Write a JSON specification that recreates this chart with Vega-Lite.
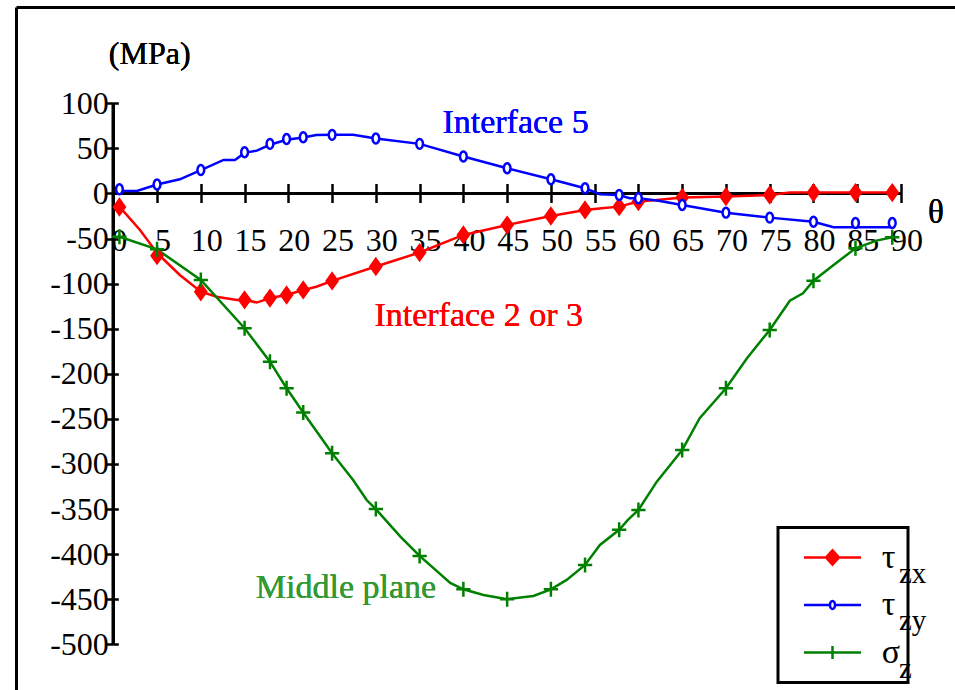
{
  "$schema": "https://vega.github.io/schema/vega-lite/v6.json",
  "width": 939,
  "height": 683,
  "autosize": {"type": "none"},
  "padding": {"left": 16, "top": 7, "right": 0, "bottom": 0},
  "background": "white",
  "config": {
    "view": {"stroke": null},
    "font": "Liberation Serif",
    "legend": {"strokeWidth": 3},
    "axis": {"labelFont": "Liberation Serif", "labelColor": "black", "tickColor": "black", "domainColor": "black", "grid": false, "labelOverlap": false, "labelFlush": false, "labelBound": false}
  },
  "datasets": {
    "curve": [
      {"series": "tzx", "x": 0.7, "y": -14.6}, {"series": "tzx", "x": 3.05, "y": -40.5}, {"series": "tzx", "x": 5, "y": -66},
      {"series": "tzx", "x": 7.6, "y": -90.4}, {"series": "tzx", "x": 10, "y": -109}, {"series": "tzx", "x": 11.8, "y": -114.5},
      {"series": "tzx", "x": 14.1, "y": -118.1}, {"series": "tzx", "x": 15, "y": -118}, {"series": "tzx", "x": 16.4, "y": -121},
      {"series": "tzx", "x": 17.9, "y": -116}, {"series": "tzx", "x": 19.8, "y": -112.6}, {"series": "tzx", "x": 21.7, "y": -107},
      {"series": "tzx", "x": 23.2, "y": -103.4}, {"series": "tzx", "x": 25, "y": -97}, {"series": "tzx", "x": 30, "y": -81},
      {"series": "tzx", "x": 35, "y": -65.5}, {"series": "tzx", "x": 40, "y": -46}, {"series": "tzx", "x": 45, "y": -35},
      {"series": "tzx", "x": 50, "y": -25}, {"series": "tzx", "x": 53.9, "y": -18.3}, {"series": "tzx", "x": 55.8, "y": -16.4},
      {"series": "tzx", "x": 57.8, "y": -14.6}, {"series": "tzx", "x": 60, "y": -9}, {"series": "tzx", "x": 62.1, "y": -7.2},
      {"series": "tzx", "x": 65, "y": -4.5}, {"series": "tzx", "x": 70, "y": -3.5}, {"series": "tzx", "x": 75, "y": -1.7},
      {"series": "tzx", "x": 77.3, "y": 1}, {"series": "tzx", "x": 80, "y": 1}, {"series": "tzx", "x": 84.8, "y": 1}, {"series": "tzx", "x": 89, "y": 1},
      {"series": "tzy", "x": 0.7, "y": 2.8}, {"series": "tzy", "x": 2.7, "y": 2.8}, {"series": "tzy", "x": 5, "y": 10},
      {"series": "tzy", "x": 7.6, "y": 15.7}, {"series": "tzy", "x": 10, "y": 26}, {"series": "tzy", "x": 12.6, "y": 37.2},
      {"series": "tzy", "x": 13.9, "y": 37.2}, {"series": "tzy", "x": 15, "y": 45}, {"series": "tzy", "x": 16.4, "y": 47.5},
      {"series": "tzy", "x": 17.9, "y": 54}, {"series": "tzy", "x": 19.8, "y": 59.5}, {"series": "tzy", "x": 21.7, "y": 62},
      {"series": "tzy", "x": 23.2, "y": 64.9}, {"series": "tzy", "x": 25, "y": 65}, {"series": "tzy", "x": 27.4, "y": 65},
      {"series": "tzy", "x": 30, "y": 61}, {"series": "tzy", "x": 35, "y": 55}, {"series": "tzy", "x": 40, "y": 41},
      {"series": "tzy", "x": 45, "y": 28}, {"series": "tzy", "x": 50, "y": 15.7}, {"series": "tzy", "x": 53.9, "y": 5.8},
      {"series": "tzy", "x": 55.6, "y": -0.9}, {"series": "tzy", "x": 57.8, "y": -1.7}, {"series": "tzy", "x": 59, "y": -5.3},
      {"series": "tzy", "x": 60, "y": -5.3}, {"series": "tzy", "x": 62.3, "y": -8}, {"series": "tzy", "x": 65, "y": -12.8},
      {"series": "tzy", "x": 70, "y": -21.3}, {"series": "tzy", "x": 75, "y": -26.8}, {"series": "tzy", "x": 80, "y": -31.3},
      {"series": "tzy", "x": 82.3, "y": -37.5}, {"series": "tzy", "x": 89, "y": -37.5},
      {"series": "sz", "x": 0.7, "y": -48}, {"series": "sz", "x": 5, "y": -62}, {"series": "sz", "x": 10, "y": -96},
      {"series": "sz", "x": 15, "y": -149.5}, {"series": "sz", "x": 17.9, "y": -186.5}, {"series": "sz", "x": 19.8, "y": -216},
      {"series": "sz", "x": 21.7, "y": -243}, {"series": "sz", "x": 25, "y": -288}, {"series": "sz", "x": 27.4, "y": -317.7},
      {"series": "sz", "x": 28.95, "y": -340}, {"series": "sz", "x": 30, "y": -350}, {"series": "sz", "x": 32.8, "y": -380.6},
      {"series": "sz", "x": 35, "y": -402}, {"series": "sz", "x": 38.5, "y": -432}, {"series": "sz", "x": 40, "y": -439},
      {"series": "sz", "x": 42.3, "y": -445.3}, {"series": "sz", "x": 45, "y": -450}, {"series": "sz", "x": 48, "y": -446.4},
      {"series": "sz", "x": 50, "y": -439}, {"series": "sz", "x": 51.8, "y": -428.6}, {"series": "sz", "x": 53.9, "y": -412},
      {"series": "sz", "x": 55.6, "y": -389.8}, {"series": "sz", "x": 57.8, "y": -373}, {"series": "sz", "x": 58.8, "y": -362},
      {"series": "sz", "x": 60, "y": -351}, {"series": "sz", "x": 62.1, "y": -319.6}, {"series": "sz", "x": 65, "y": -284.5},
      {"series": "sz", "x": 67, "y": -249.3}, {"series": "sz", "x": 70, "y": -216}, {"series": "sz", "x": 72.4, "y": -182.8},
      {"series": "sz", "x": 75, "y": -151.4}, {"series": "sz", "x": 77.3, "y": -118.9}, {"series": "sz", "x": 78.8, "y": -110.7},
      {"series": "sz", "x": 80, "y": -96.7}, {"series": "sz", "x": 82.3, "y": -79.3}, {"series": "sz", "x": 84.8, "y": -60.8},
      {"series": "sz", "x": 87.2, "y": -52.3}, {"series": "sz", "x": 89, "y": -48.6}
    ],
    "markers": [
      {"series": "tzx", "x": 0.7, "y": -15}, {"series": "tzx", "x": 5, "y": -69}, {"series": "tzx", "x": 10, "y": -109},
      {"series": "tzx", "x": 15, "y": -118}, {"series": "tzx", "x": 17.9, "y": -116}, {"series": "tzx", "x": 19.8, "y": -112.6},
      {"series": "tzx", "x": 21.7, "y": -107}, {"series": "tzx", "x": 25, "y": -97}, {"series": "tzx", "x": 30, "y": -81},
      {"series": "tzx", "x": 35, "y": -65.5}, {"series": "tzx", "x": 40, "y": -46}, {"series": "tzx", "x": 45, "y": -35},
      {"series": "tzx", "x": 50, "y": -25}, {"series": "tzx", "x": 53.9, "y": -18.3}, {"series": "tzx", "x": 57.8, "y": -14.6},
      {"series": "tzx", "x": 60, "y": -9}, {"series": "tzx", "x": 65, "y": -4.5}, {"series": "tzx", "x": 70, "y": -3.5},
      {"series": "tzx", "x": 75, "y": -1.7}, {"series": "tzx", "x": 80, "y": 1}, {"series": "tzx", "x": 84.8, "y": 1}, {"series": "tzx", "x": 89, "y": 1},
      {"series": "tzy", "x": 0.7, "y": 4.7}, {"series": "tzy", "x": 5, "y": 10}, {"series": "tzy", "x": 10, "y": 26},
      {"series": "tzy", "x": 15, "y": 45.7}, {"series": "tzy", "x": 17.9, "y": 55}, {"series": "tzy", "x": 19.8, "y": 60.4},
      {"series": "tzy", "x": 21.7, "y": 62.3}, {"series": "tzy", "x": 25, "y": 65}, {"series": "tzy", "x": 30, "y": 61},
      {"series": "tzy", "x": 35, "y": 55}, {"series": "tzy", "x": 40, "y": 41}, {"series": "tzy", "x": 45, "y": 28},
      {"series": "tzy", "x": 50, "y": 15.7}, {"series": "tzy", "x": 53.9, "y": 5.8}, {"series": "tzy", "x": 57.8, "y": -1.7},
      {"series": "tzy", "x": 60, "y": -5.3}, {"series": "tzy", "x": 65, "y": -12.8}, {"series": "tzy", "x": 70, "y": -21.3},
      {"series": "tzy", "x": 75, "y": -26.8}, {"series": "tzy", "x": 80, "y": -31.3}, {"series": "tzy", "x": 84.8, "y": -32.7}, {"series": "tzy", "x": 89, "y": -32.7},
      {"series": "sz", "x": 0.7, "y": -48}, {"series": "sz", "x": 5, "y": -62}, {"series": "sz", "x": 10, "y": -96},
      {"series": "sz", "x": 15, "y": -149.5}, {"series": "sz", "x": 17.9, "y": -186.5}, {"series": "sz", "x": 19.8, "y": -216},
      {"series": "sz", "x": 21.7, "y": -243}, {"series": "sz", "x": 25, "y": -288}, {"series": "sz", "x": 30, "y": -350},
      {"series": "sz", "x": 35, "y": -402}, {"series": "sz", "x": 40, "y": -439}, {"series": "sz", "x": 45, "y": -450},
      {"series": "sz", "x": 50, "y": -439}, {"series": "sz", "x": 53.9, "y": -412}, {"series": "sz", "x": 57.8, "y": -373},
      {"series": "sz", "x": 60, "y": -351}, {"series": "sz", "x": 65, "y": -284.5}, {"series": "sz", "x": 70, "y": -216},
      {"series": "sz", "x": 75, "y": -151.4}, {"series": "sz", "x": 80, "y": -96.7}, {"series": "sz", "x": 84.8, "y": -60.8}, {"series": "sz", "x": 89, "y": -48.6}
    ],
    "legend": [
      {"series": "tzx", "sub": "zx"}, {"series": "tzy", "sub": "zy"}, {"series": "sz", "sub": "z"}
    ]
  },
  "layer": [
    {
      "data": {"name": "legend"},
      "mark": {"type": "rule", "stroke": "black", "strokeWidth": 3},
      "encoding": {
        "x": {"datum": 0, "type": "quantitative", "axis": null},
        "y": {"datum": -500, "type": "quantitative", "axis": {"orient": "left", "offset": 0, "domain": true, "domainWidth": 3, "ticks": false, "labels": false, "title": null}},
        "y2": {"datum": 100}
      }
    },
    {
      "data": {"name": "legend"},
      "mark": {"type": "rule", "stroke": "black", "strokeWidth": 3},
      "encoding": {
        "x": {"datum": 0, "type": "quantitative", "axis": {"orient": "top", "offset": 0, "domain": true, "domainWidth": 3, "ticks": false, "labels": false, "title": null}},
        "x2": {"datum": 90},
        "y": {"datum": 0, "type": "quantitative", "axis": null}
      }
    },
    {
      "data": {"name": "curve"},
      "mark": {"type": "line", "strokeWidth": 2.5},
      "encoding": {
        "x": {"field": "x", "type": "quantitative", "scale": {"domain": [-11.117, 96.171], "nice": false, "zero": false},
              "axis": {"orient": "bottom", "offset": -496.5, "values": [0,5,10,15,20,25,30,35,40,45,50,55,60,65,70,75,80,85,90], "domain": false, "tickSize": 9, "tickWidth": 2.5, "labelFont": "Liberation Serif", "labelFontSize": 32, "labelPadding": 23, "labelOffset": 5.5, "labelExpr": "'' + datum.value", "title": null}},
        "y": {"field": "y", "type": "quantitative", "scale": {"domain": [-550.68, 206.8], "nice": false, "zero": false},
              "axis": {"orient": "left", "offset": -97.3, "values": [-500,-450,-400,-350,-300,-250,-200,-150,-100,-50,0,50,100], "domain": false, "tickSize": 7, "tickWidth": 2.5, "labelFont": "Liberation Serif", "labelFontSize": 32, "labelPadding": -2, "labelExpr": "'' + datum.value", "title": null}},
        "stroke": {"field": "series", "type": "nominal", "scale": {"domain": ["tzx", "tzy", "sz"], "range": ["#ff0000", "#0000ff", "#008000"]}, "legend": null}
      }
    },
    {
      "data": {"name": "markers"},
      "mark": {"type": "point", "filled": true, "opacity": 1, "strokeWidth": 2.5, "size": 225},
      "encoding": {
        "x": {"field": "x", "type": "quantitative",
              "axis": {"orient": "top", "offset": -186.5, "values": [0,5,10,15,20,25,30,35,40,45,50,55,60,65,70,75,80,85,90], "domain": false, "tickSize": 10, "tickWidth": 2.5, "labels": false, "title": null}},
        "y": {"field": "y", "type": "quantitative",
              "axis": {"orient": "right", "offset": -841.7, "values": [-500,-450,-400,-350,-300,-250,-200,-150,-100,-50,0,50,100], "domain": false, "tickSize": 5, "tickWidth": 2.5, "labels": false, "title": null}},
        "shape": {"field": "series", "type": "nominal", "scale": {"domain": ["tzx", "tzy", "sz"], "range": ["M0,-1L0.72,0L0,1L-0.72,0Z", "M0,-0.66A0.45,0.66 0 1,1 0,0.66A0.45,0.66 0 1,1 0,-0.66Z", "M-0.95,0H0.95M0,-1V1"]}, "legend": null},
        "stroke": {"field": "series", "type": "nominal", "scale": {"domain": ["tzx", "tzy", "sz"], "range": ["#ff0000", "#0000ff", "#008000"]}, "legend": null},
        "fill": {"field": "series", "type": "nominal", "scale": {"domain": ["tzx", "tzy", "sz"], "range": ["#ff0000", "#ffffff", "transparent"]}, "legend": null}
      }
    },
    {
      "data": {"name": "legend"},
      "mark": {"type": "text", "text": "(MPa)", "font": "Liberation Serif", "fontSize": 32, "fontWeight": "normal", "color": "black", "align": "center", "baseline": "middle"},
      "encoding": {"x": {"datum": 4.16, "type": "quantitative", "axis": null}, "y": {"datum": 155.0, "type": "quantitative", "axis": null}}
    },
    {
      "data": {"name": "legend"},
      "mark": {"type": "text", "text": "θ", "font": "Liberation Serif", "fontSize": 33, "fontWeight": "normal", "color": "black", "align": "center", "baseline": "middle"},
      "encoding": {"x": {"datum": 93.98, "type": "quantitative", "axis": null}, "y": {"datum": -21.2, "type": "quantitative", "axis": null}}
    },
    {
      "data": {"name": "legend"},
      "mark": {"type": "text", "text": "Interface 5", "font": "Liberation Serif", "fontSize": 34, "fontWeight": "normal", "color": "#0000ff", "align": "center", "baseline": "middle"},
      "encoding": {"x": {"datum": 45.96, "type": "quantitative", "axis": null}, "y": {"datum": 78.0, "type": "quantitative", "axis": null}}
    },
    {
      "data": {"name": "legend"},
      "mark": {"type": "text", "text": "Interface 2 or 3", "font": "Liberation Serif", "fontSize": 34, "fontWeight": "normal", "color": "#ff0000", "align": "center", "baseline": "middle"},
      "encoding": {"x": {"datum": 41.75, "type": "quantitative", "axis": null}, "y": {"datum": -135.7, "type": "quantitative", "axis": null}}
    },
    {
      "data": {"name": "legend"},
      "mark": {"type": "text", "text": "Middle plane", "font": "Liberation Serif", "fontSize": 34, "fontWeight": "normal", "color": "#339933", "align": "center", "baseline": "middle"},
      "encoding": {"x": {"datum": 26.59, "type": "quantitative", "axis": null}, "y": {"datum": -437.3, "type": "quantitative", "axis": null}}
    },
    {
      "data": {"name": "legend"},
      "transform": [{"filter": "false"}],
      "mark": {"type": "point", "filled": true, "opacity": 1, "strokeWidth": 2.5},
      "encoding": {
        "shape": {"field": "series", "type": "nominal",
                  "scale": {"domain": ["tzx", "tzy", "sz"], "range": [
                    "M-1.68,0H1.68M0,-0.42L0.38,0L0,0.42L-0.38,0Z",
                    "M-1.68,0H-0.15M0.15,0H1.68M0,-0.24A0.15,0.24 0 1,1 0,0.24A0.15,0.24 0 1,1 0,-0.24Z",
                    "M-1.68,0H1.68M0,-0.38V0.38"]},
                  "legend": {"orient": "none", "legendX": 762, "legendY": 520.5, "title": null, "padding": 7, "clipHeight": 46, "symbolSize": 1156, "symbolStrokeWidth": 2.5, "symbolOpacity": 1, "symbolOffset": 29, "rowPadding": 1.5, "labelOffset": 30.7, "labelFont": "Liberation Serif", "labelFontSize": 34, "labelColor": "black", "labelExpr": "datum.label == 'sz' ? 'σ\u00a0\u00a0\u00a0\u00a0' : 'τ\u00a0\u00a0\u00a0\u00a0'", "strokeColor": "black"}},
        "stroke": {"field": "series", "type": "nominal", "scale": {"domain": ["tzx", "tzy", "sz"], "range": ["#ff0000", "#0000ff", "#008000"]}},
        "fill": {"field": "series", "type": "nominal", "scale": {"domain": ["tzx", "tzy", "sz"], "range": ["#ff0000", "#ffffff", "#008000"]}}
      }
    },
    {
      "data": {"name": "legend"},
      "transform": [{"filter": "false"}],
      "mark": {"type": "point", "opacity": 1},
      "encoding": {
        "shape": {"field": "sub", "type": "nominal",
                  "scale": {"domain": ["zx", "zy", "z"], "range": ["square", "square", "square"]},
                  "legend": {"orient": "none", "legendX": 854, "legendY": 543.5, "title": null, "padding": 0, "clipHeight": 46, "symbolSize": 4, "symbolOpacity": 0, "rowPadding": 1.5, "labelOffset": 0, "labelFont": "Liberation Serif", "labelFontSize": 29, "labelColor": "black", "labelBaseline": "middle"}}
      }
    }
  ],
  "resolve": {
    "scale": {"shape": "independent", "stroke": "independent", "fill": "independent"},
    "axis": {"x": "independent", "y": "independent"},
    "legend": {"shape": "independent", "stroke": "independent", "fill": "independent"}
  }
}
